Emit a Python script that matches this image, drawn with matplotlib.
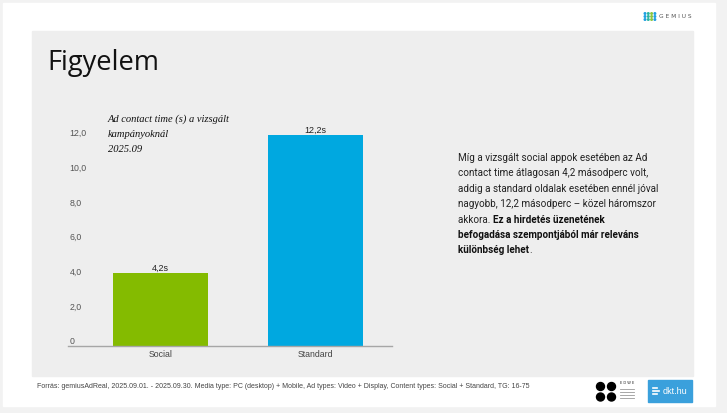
#!/usr/bin/env python
import matplotlib
matplotlib.use('Agg')
import matplotlib.pyplot as plt
from matplotlib.patches import Rectangle, Circle

# chart data
categories = ['Social', 'Standard']
values = [4.2, 12.2]
value_labels = ['4,2s', '12,2s']
bar_colors = ['#84bb00', '#00a8e0']
y_ticks = [0, 2, 4, 6, 8, 10, 12]
y_tick_labels = ['0', '2,0', '4,0', '6,0', '8,0', '10,0', '12,0']

chart_title = ['Ad contact time (s) a vizsgált', 'kampányoknál', '2025.09']
footer = ('Forrás: gemiusAdReal, 2025.09.01. - 2025.09.30. Media type: PC (desktop) + Mobile, '
          'Ad types: Video + Display, Content types: Social + Standard, TG: 16-75')

W, H = 727, 413
fig = plt.figure(figsize=(W / 100, H / 100), dpi=100)
fig.patch.set_facecolor('#f2f2f2')

# background layer in pixel coords
bg = fig.add_axes([0, 0, 1, 1])
bg.set_xlim(0, W)
bg.set_ylim(H, 0)
bg.axis('off')
bg.add_patch(Rectangle((3, 3), 712, 403, color='white', zorder=0))
bg.add_patch(Rectangle((32, 31), 661, 345, color='#eeeeee', zorder=1))

bg.text(47, 63, 'Figyelem', family='Open Sans', fontsize=19.6, color='#111111',
        va='center', ha='left', zorder=3)

# gemius logo
dot_cols = ['#1fa0e0', '#2cb5a0', '#8cc63f', '#1fa0e0']
for i in range(4):
  for j in range(3):
    bg.add_patch(Circle((645 + i * 3.3, 13.5 + j * 3.0), 0.8, color=dot_cols[i], zorder=3))
bg.text(659, 17, 'G E M I U S', family='DejaVu Sans', fontsize=4.2, color='#555555',
        va='center', ha='left', zorder=3)

# chart title
for k, line in enumerate(chart_title):
  bg.text(108, 119 + k * 15.3, line, family='Liberation Serif', style='italic',
          fontsize=7.6, color='#111111', va='center', ha='left', zorder=3)

# right paragraph
px, py0, dy = 458, 158, 15.4
fs = 7.1
normal_lines = ['Míg a vizsgált social appok esetében az Ad',
                'contact time átlagosan 4,2 másodperc volt,',
                'addig a standard oldalak esetében ennél jóval',
                'nagyobb, 12,2 másodperc – közel háromszor']
for k, line in enumerate(normal_lines):
  bg.text(px, py0 + k * dy, line, family='Roboto', fontsize=fs, color='#222222',
          va='center', ha='left', zorder=3)
t1 = bg.text(px, py0 + 4 * dy, 'akkora. ', family='Roboto', fontsize=fs, color='#222222',
             va='center', ha='left', zorder=3)
bg.annotate('Ez a hirdetés üzenetének', xy=(1, 0), xycoords=t1, family='Roboto',
            fontsize=fs, fontweight='bold', color='#111111', va='bottom', ha='left', zorder=3)
bg.text(px, py0 + 5 * dy, 'befogadása szempontjából már releváns', family='Roboto',
        fontsize=fs, fontweight='bold', color='#111111', va='center', ha='left', zorder=3)
t2 = bg.text(px, py0 + 6 * dy, 'különbség lehet', family='Roboto', fontsize=fs,
             fontweight='bold', color='#111111', va='center', ha='left', zorder=3)
bg.annotate('.', xy=(1, 0), xycoords=t2, family='Roboto', fontsize=fs, color='#222222',
            va='bottom', ha='left', zorder=3)

# footer
bg.text(37, 387, footer, family='Liberation Sans', fontsize=5.0, color='#444444',
        va='center', ha='left', zorder=3)

# edwe logo
for cx in (600.5, 611.5):
  for cy in (386.5, 397):
    bg.add_patch(Circle((cx, cy), 4, color='black', zorder=3))
bg.text(620, 383, 'E D W E', family='DejaVu Sans', fontsize=2.6, color='#222222',
        va='center', ha='left', zorder=3)
for k in range(4):
  bg.plot([620, 634], [389 + k * 3, 389 + k * 3], color='#999999', lw=0.6, zorder=3)

# dkt.hu
bg.add_patch(Rectangle((648, 380), 44, 22, color='#3aa0dc', zorder=3))
for k, wdt in enumerate([4, 6, 4]):
  bg.plot([653, 653 + wdt], [387.5 + k * 3, 387.5 + k * 3], color='white', lw=1.2, zorder=4)
bg.text(663, 391, 'dkt.hu', family='Liberation Sans', fontsize=6.5, color='white',
        va='center', ha='left', zorder=4)

# bar chart
px_per_unit = 17.33
ymax = 13
x0, x1 = 68, 392
ybot = 346
ax = fig.add_axes([x0 / W, (H - ybot) / H, (x1 - x0) / W, ymax * px_per_unit / H])
ax.patch.set_alpha(0)
xs = list(range(len(categories)))
bars = ax.bar(xs, values, width=0.613, color=bar_colors, zorder=2)
ax.set_xlim(-0.597, 1.494)
ax.set_ylim(0, ymax)
for b, lab in zip(bars, value_labels):
  ax.text(b.get_x() + b.get_width() / 2, b.get_height(), lab, ha='center', va='bottom',
          fontsize=6.5, color='#222222', family='Liberation Sans')

for s in ['top', 'right', 'left']:
  ax.spines[s].set_visible(False)
ax.spines['bottom'].set_color('#a6a6a6')
ax.spines['bottom'].set_linewidth(1.0)

ax.set_xticks(xs)
ax.set_xticklabels(categories, fontsize=6.3, color='#444444', family='Liberation Sans')
ax.tick_params(axis='x', length=0, pad=3)

ax.set_yticks(y_ticks)
ax.set_yticklabels(y_tick_labels, fontsize=6.3, color='#555555', family='Liberation Sans')
ax.tick_params(axis='y', length=0, pad=-1)
for lab in ax.get_yticklabels():
  lab.set_horizontalalignment('left')
  lab.set_verticalalignment('bottom')

fig.savefig('out.png', dpi=100, facecolor=fig.get_facecolor())
